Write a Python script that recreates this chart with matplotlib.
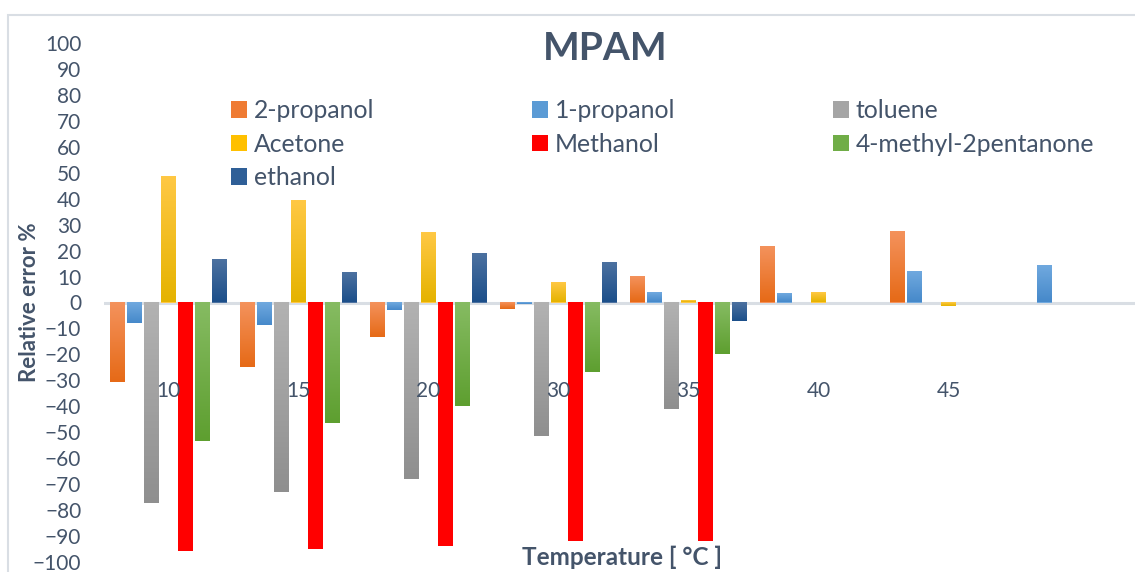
import numpy as np
import matplotlib.pyplot as plt
from matplotlib.colors import LinearSegmentedColormap
from matplotlib.patches import Rectangle, Patch

plt.rcParams['font.family'] = ['Lato', 'DejaVu Sans']

temps = ["10", "15", "20", "30", "35", "40", "45", ""]
nan = np.nan

# relative error % per solvent, one value per temperature
prop2 = [-30.6, -24.9, -13.3, -2.6, 10.0, 21.2, 27.3, nan]
prop1 = [-7.9, -8.7, -3.0, -0.7, 3.5, 3.1, 11.9, 14.2]
toluene = [-77.2, -73.0, -68.0, -51.4, -41.0, nan, nan, nan]
acetone = [48.5, 39.2, 26.9, 7.7, 0.5, 3.5, -1.4, nan]
methanol = [-95.6, -95.0, -93.7, -92.0, -92.0, nan, nan, nan]
mibk = [-53.3, -46.4, -39.9, -26.8, -19.9, nan, nan, nan]
ethanol = [16.5, 11.5, 18.8, 15.4, -7.2, nan, nan, nan]

names = ["2-propanol", "1-propanol", "toluene", "Acetone", "Methanol",
         "4-methyl-2pentanone", "ethanol"]
series = [prop2, prop1, toluene, acetone, methanol, mibk, ethanol]
# (top colour, bottom colour) of each bar's vertical gradient
shades = [("#F4925C", "#E66A17"), ("#70A9DF", "#4689CA"), ("#B2B2B2", "#8F8F8F"),
          ("#FFC844", "#E5B300"), ("#FF0000", "#FF0000"), ("#86BB62", "#5E9F30"),
          ("#4C71A0", "#1C4F8A")]
swatch = ["#EF7B33", "#5B9BD5", "#A5A5A5", "#FFC000", "#FF0000", "#70AD47", "#2F5F97"]

txt = "#44546A"

fig = plt.figure(figsize=(11.35, 5.72), dpi=100)
# chart border (runs off the right and bottom edges)
fig.patches.append(Rectangle((8 / 1135, -0.1), 1.2, (572 - 15) / 572 + 0.1,
                             transform=fig.transFigure, fill=False,
                             edgecolor="#D9DEE4", lw=1.5))

ax = fig.add_axes([103.5 / 1135, 10 / 572, 1040 / 1135, 519 / 572])
x = np.arange(len(temps))
step, w = 0.13, 0.115

for i, (vals, name, (ctop, cbot)) in enumerate(zip(series, names, shades)):
    pos = x + (i - 3) * step
    ax.bar(pos, vals, w, color=ctop, zorder=2)
    cmap = LinearSegmentedColormap.from_list(name, [cbot, ctop])
    grad = np.linspace(0, 1, 64).reshape(-1, 1)
    for p, v in zip(pos, vals):
        if np.isnan(v):
            continue
        ax.imshow(grad, extent=[p - w / 2, p + w / 2, min(0, v), max(0, v)],
                  origin="lower", cmap=cmap, aspect="auto", zorder=3)

ax.axhline(0, color="#D9DEE4", lw=2.2, zorder=1)
ax.set_xlim(-0.5, len(temps) - 0.5)
ax.set_ylim(-100, 100)
ax.set_yticks(np.arange(-100, 101, 10))
ax.tick_params(axis="y", length=0, pad=16, labelsize=15, labelcolor=txt)
ax.set_xticks([])
for s in ax.spines.values():
    s.set_visible(False)

# category labels sit inside the plot, below the zero line
for xi, t in zip(x, temps):
    ax.text(xi, -34, t, ha="center", va="center", fontsize=15, color=txt)

fig.text(30 / 1135, 1 - 302 / 572, "Relative error %", rotation=90, ha="center",
         va="center", fontsize=16, fontweight="bold", color=txt)
fig.text(622 / 1135, 1 - 557 / 572, "Temperature [ °C ]", ha="center",
         va="center", fontsize=17.5, fontweight="bold", color=txt)
fig.text(605 / 1135, 1 - 48 / 572, "MPAM", ha="center", va="center",
         fontsize=28, fontweight="bold", color=txt)

order = [0, 3, 6, 1, 4, 2, 5]
handles = [Patch(facecolor=swatch[k]) for k in order]
leg = fig.legend(handles, [names[k] for k in order],
                 ncol=3, loc="upper left", bbox_to_anchor=(219 / 1135, 1 - 87 / 572),
                 frameon=False, fontsize=17.8, handlelength=0.65, handleheight=0.65,
                 handletextpad=0.25, columnspacing=6.4, labelspacing=0.42,
                 labelcolor=txt, borderpad=0)

fig.savefig("out.png", dpi=100)
